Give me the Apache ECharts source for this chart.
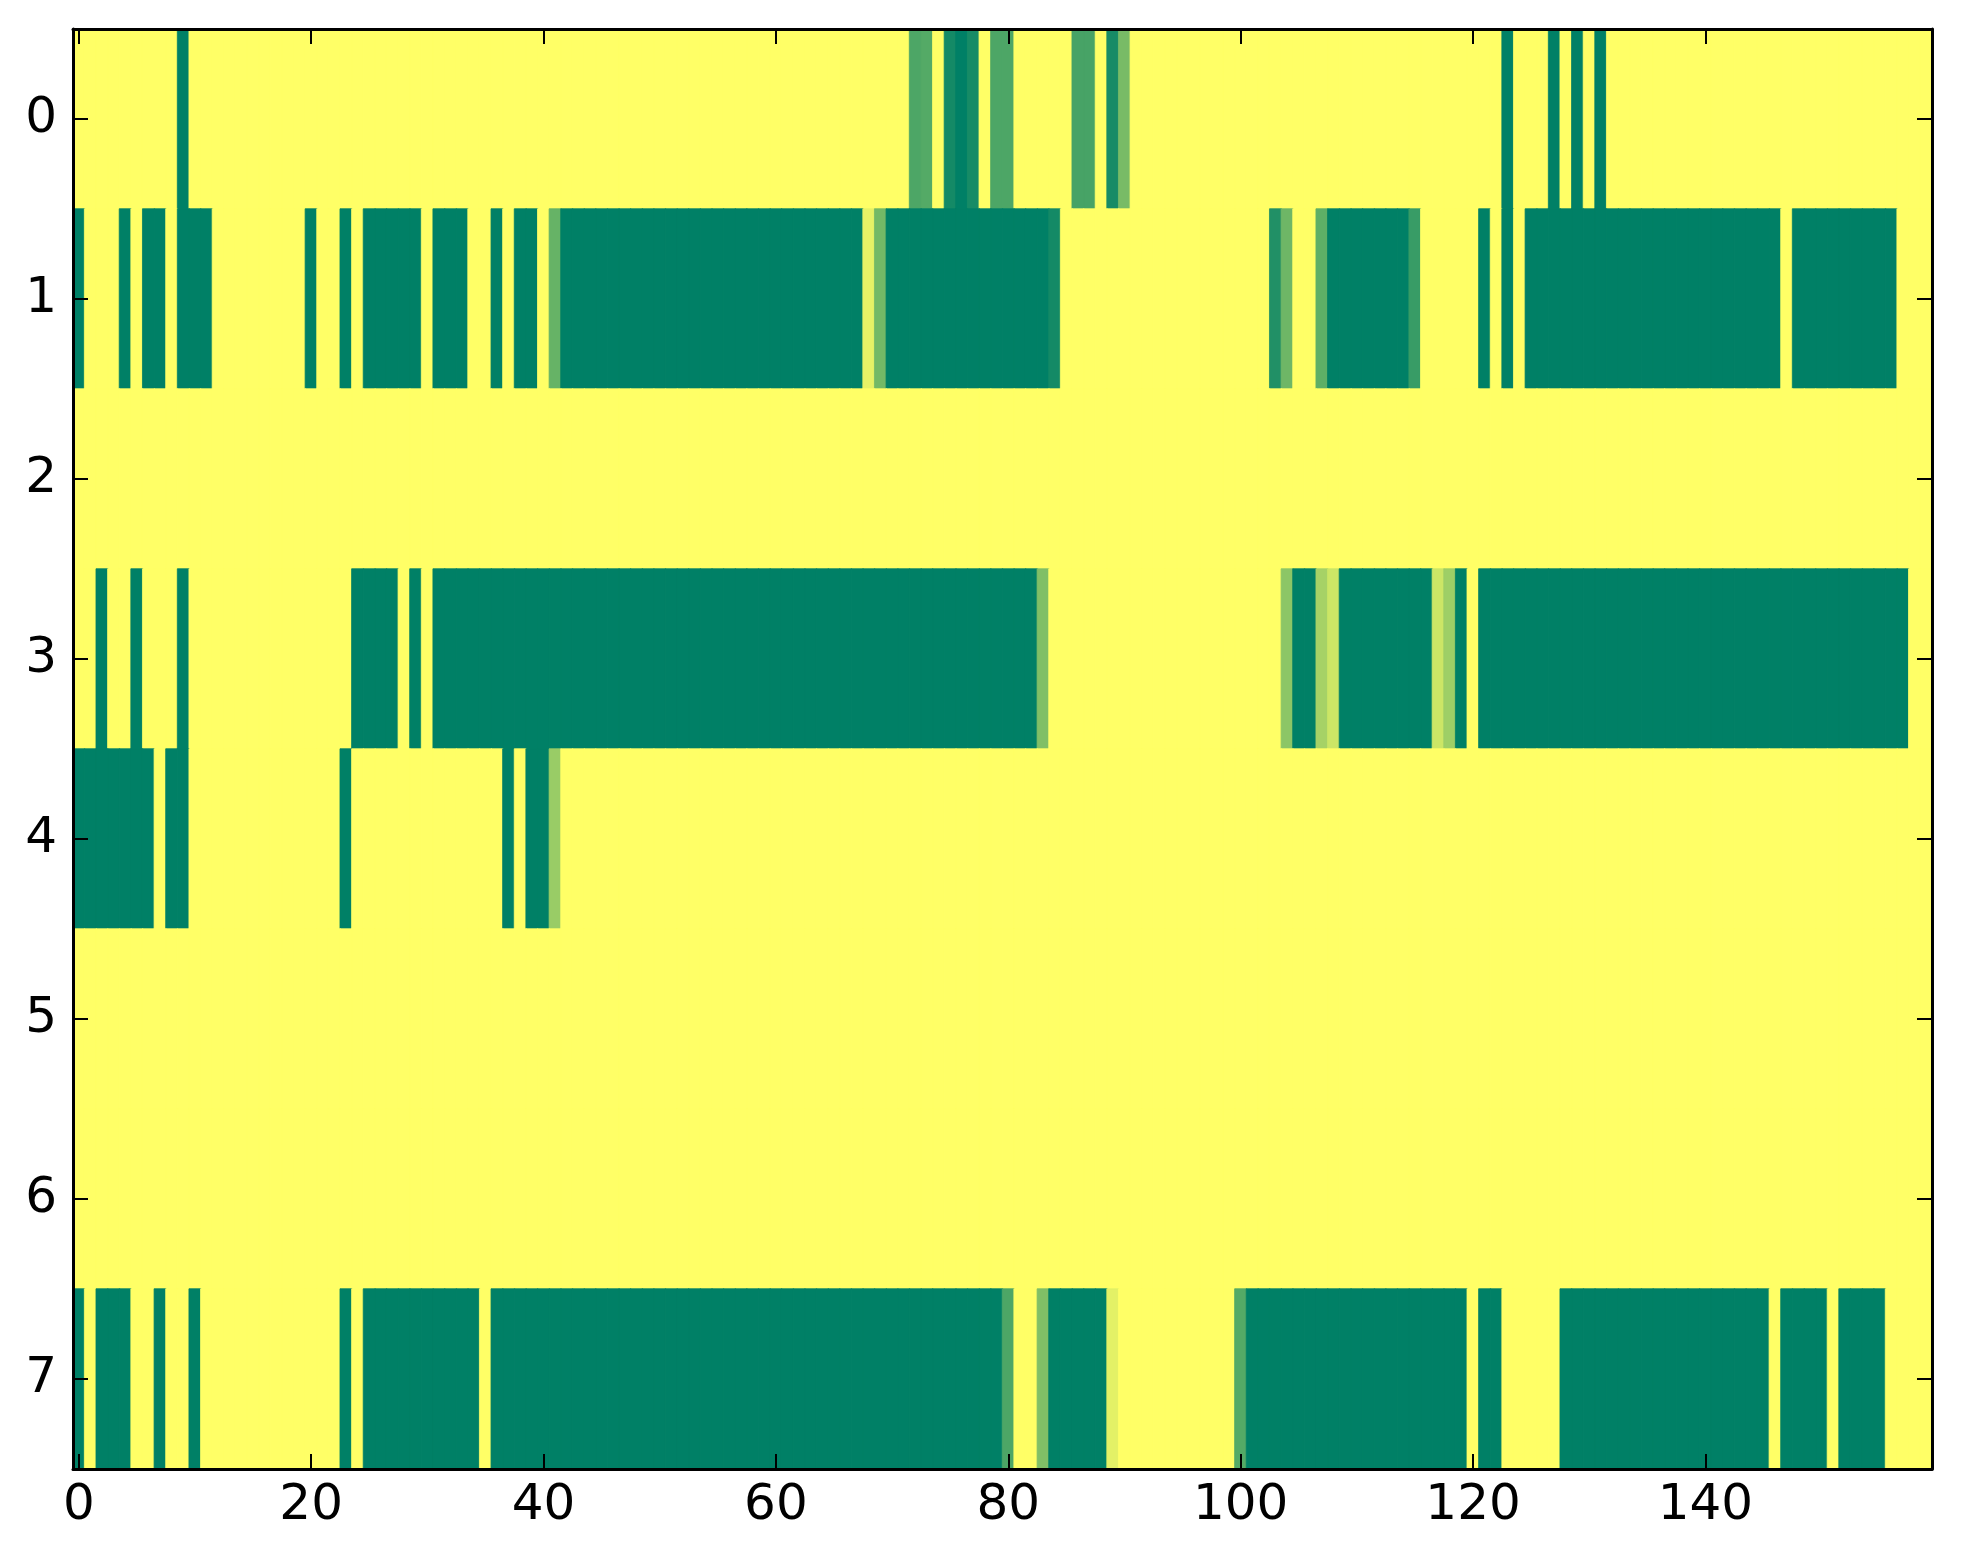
<!DOCTYPE html>
<html>
<head>
<meta charset="utf-8">
<script src="https://cdn.jsdelivr.net/npm/echarts@6/dist/echarts.min.js"></script>
<style>
html,body{margin:0;padding:0;background:#fff;}
#chart{width:1963px;height:1564px;}
</style>
</head>
<body>
<div id="chart"></div>
<script>
// Row labels (top to bottom) and x tick labels
const rowLabels = ['0','1','2','3','4','5','6','7'];
const xTickLabels = ['0','20','40','60','80','100','120','140'];
const columnCount = 160;

// Cell values per row, columns 0..159 (0 = green, 1 = yellow)
const row0 = [
1,1,1,1,1,1,1,1,1,0,
1,1,1,1,1,1,1,1,1,1,
1,1,1,1,1,1,1,1,1,1,
1,1,1,1,1,1,1,1,1,1,
1,1,1,1,1,1,1,1,1,1,
1,1,1,1,1,1,1,1,1,1,
1,1,1,1,1,1,1,1,1,1,
1,1,0.3,0.33,1,0.08,0,0.09,1,0.3,
0.3,1,1,1,1,1,0.28,0.28,1,0.09,
0.47,1,1,1,1,1,1,1,1,1,
1,1,1,1,1,1,1,1,1,1,
1,1,1,1,1,1,1,1,1,1,
1,1,1,0,1,1,1,0,1,0,
1,0,1,1,1,1,1,1,1,1,
1,1,1,1,1,1,1,1,1,1,
1,1,1,1,1,1,1,1,1,1
];
const row1 = [
0,1,1,1,0,1,0,0,1,0,
0,0,1,1,1,1,1,1,1,1,
0,1,1,0,1,0,0,0,0,0,
1,0,0,0,1,1,0,1,0,0,
1,0.4,0,0,0,0,0,0,0,0,
0,0,0,0,0,0,0,0,0,0,
0,0,0,0,0,0,0,0,0.9,0.45,
0,0,0,0,0,0,0,0,0,0,
0,0,0,0,0.08,1,1,1,1,1,
1,1,1,1,1,1,1,1,1,1,
1,1,1,0.13,0.43,1,1,0.37,0,0,
0,0,0,0,0,0.22,1,1,1,1,
1,0,1,0,1,0,0,0,0,0,
0,0,0,0,0,0,0,0,0,0,
0,0,0,0,0,0,0,1,0,0,
0,0,0,0,0,0,0,1,1,1
];
const row2 = [
1,1,1,1,1,1,1,1,1,1,
1,1,1,1,1,1,1,1,1,1,
1,1,1,1,1,1,1,1,1,1,
1,1,1,1,1,1,1,1,1,1,
1,1,1,1,1,1,1,1,1,1,
1,1,1,1,1,1,1,1,1,1,
1,1,1,1,1,1,1,1,1,1,
1,1,1,1,1,1,1,1,1,1,
1,1,1,1,1,1,1,1,1,1,
1,1,1,1,1,1,1,1,1,1,
1,1,1,1,1,1,1,1,1,1,
1,1,1,1,1,1,1,1,1,1,
1,1,1,1,1,1,1,1,1,1,
1,1,1,1,1,1,1,1,1,1,
1,1,1,1,1,1,1,1,1,1,
1,1,1,1,1,1,1,1,1,1
];
const row3 = [
1,1,0,1,1,0,1,1,1,0,
1,1,1,1,1,1,1,1,1,1,
1,1,1,1,0,0,0,0,1,0,
1,0,0,0,0,0,0,0,0,0,
0,0,0,0,0,0,0,0,0,0,
0,0,0,0,0,0,0,0,0,0,
0,0,0,0,0,0,0,0,0,0,
0,0,0,0,0,0,0,0,0,0,
0,0,0,0.5,1,1,1,1,1,1,
1,1,1,1,1,1,1,1,1,1,
1,1,1,1,0.55,0,0,0.65,0.8,0,
0,0,0,0,0,0,0,0.8,0.62,0,
1,0,0,0,0,0,0,0,0,0,
0,0,0,0,0,0,0,0,0,0,
0,0,0,0,0,0,0,0,0,0,
0,0,0,0,0,0,0,0,1,1
];
const row4 = [
0,0,0,0,0,0,0,1,0,0,
1,1,1,1,1,1,1,1,1,1,
1,1,1,0,1,1,1,1,1,1,
1,1,1,1,1,1,1,0,1,0,
0,0.6,1,1,1,1,1,1,1,1,
1,1,1,1,1,1,1,1,1,1,
1,1,1,1,1,1,1,1,1,1,
1,1,1,1,1,1,1,1,1,1,
1,1,1,1,1,1,1,1,1,1,
1,1,1,1,1,1,1,1,1,1,
1,1,1,1,1,1,1,1,1,1,
1,1,1,1,1,1,1,1,1,1,
1,1,1,1,1,1,1,1,1,1,
1,1,1,1,1,1,1,1,1,1,
1,1,1,1,1,1,1,1,1,1,
1,1,1,1,1,1,1,1,1,1
];
const row5 = row2.slice();
const row6 = row2.slice();
const row7 = [
0,1,0,0,0,1,1,0,1,1,
0,1,1,1,1,1,1,1,1,1,
1,1,1,0,1,0,0,0,0,0,
0,0,0,0,0,1,0,0,0,0,
0,0,0,0,0,0,0,0,0,0,
0,0,0,0,0,0,0,0,0,0,
0,0,0,0,0,0,0,0,0,0,
0,0,0,0,0,0,0,0,0,0,
0.3,1,1,0.5,0,0,0,0,0,0.89,
1,1,1,1,1,1,1,1,1,1,
0.33,0,0,0,0,0,0,0,0,0,
0,0,0,0,0,0,0,0,0,0,
1,0,0,1,1,1,1,1,0,0,
0,0,0,0,0,0,0,0,0,0,
0,0,0,0,0,0,1,0,0,0,
0,1,0,0,0,0,1,1,1,1
];

const rows = [row0,row1,row2,row3,row4,row5,row6,row7];
const xCategories = [];
for (let i = 0; i < columnCount; i++) xCategories.push(String(i));

// matplotlib "summer" colormap: (v, 0.5 + 0.5 v, 0.4)
function summer(v) {
  const r = Math.round(255 * v);
  const g = Math.round(255 * (0.5 + 0.5 * v));
  return 'rgb(' + r + ',' + g + ',102)';
}

const data = [];
rows.forEach((r, y) => r.forEach((v, x) => {
  const c = summer(v);
  data.push({value:[x, y, v], itemStyle:{color:c, borderColor:c, borderWidth:0.8}});
}));

const FONT = 'DejaVu Sans';
const tickStyle = {color:'#000', width:2};
const lineStyle = {color:'#000', width:3};

const chart = echarts.init(document.getElementById('chart'), null, {renderer:'canvas'});
chart.setOption({
  backgroundColor:'#ffffff',
  animation:false,
  grid:{left:73, top:29, width:1859, height:1440, containLabel:false},
  xAxis:[{
    type:'category', data:xCategories, position:'bottom', z:10,
    axisLine:{show:true, onZero:false, lineStyle:lineStyle},
    axisTick:{show:true, inside:true, length:15, interval:19, alignWithLabel:true, lineStyle:tickStyle},
    axisLabel:{show:true, interval:19, margin:12, color:'#000', fontFamily:FONT, fontSize:50,
      formatter:function(v){ return xTickLabels.indexOf(v) >= 0 ? v : ''; }},
    splitLine:{show:false}, splitArea:{show:false}
  },{
    type:'category', data:xCategories, position:'top', z:10,
    axisLine:{show:true, onZero:false, lineStyle:lineStyle},
    axisTick:{show:true, inside:true, length:15, interval:19, alignWithLabel:true, lineStyle:tickStyle},
    axisLabel:{show:false}, splitLine:{show:false}
  }],
  yAxis:[{
    type:'category', data:rowLabels, inverse:true, position:'left', z:10,
    axisLine:{show:true, onZero:false, lineStyle:lineStyle},
    axisTick:{show:true, inside:true, length:15, alignWithLabel:true, lineStyle:tickStyle},
    axisLabel:{show:true, margin:16, color:'#000', fontFamily:FONT, fontSize:50},
    splitLine:{show:false}, splitArea:{show:false}
  },{
    type:'category', data:rowLabels, inverse:true, position:'right', z:10,
    axisLine:{show:true, onZero:false, lineStyle:lineStyle},
    axisTick:{show:true, inside:true, length:15, alignWithLabel:true, lineStyle:tickStyle},
    axisLabel:{show:false}, splitLine:{show:false}
  }],
  series:[{
    type:'heatmap', xAxisIndex:0, yAxisIndex:0, data:data,
    emphasis:{disabled:true},
    progressive:0
  }]
});
</script>
</body>
</html>
